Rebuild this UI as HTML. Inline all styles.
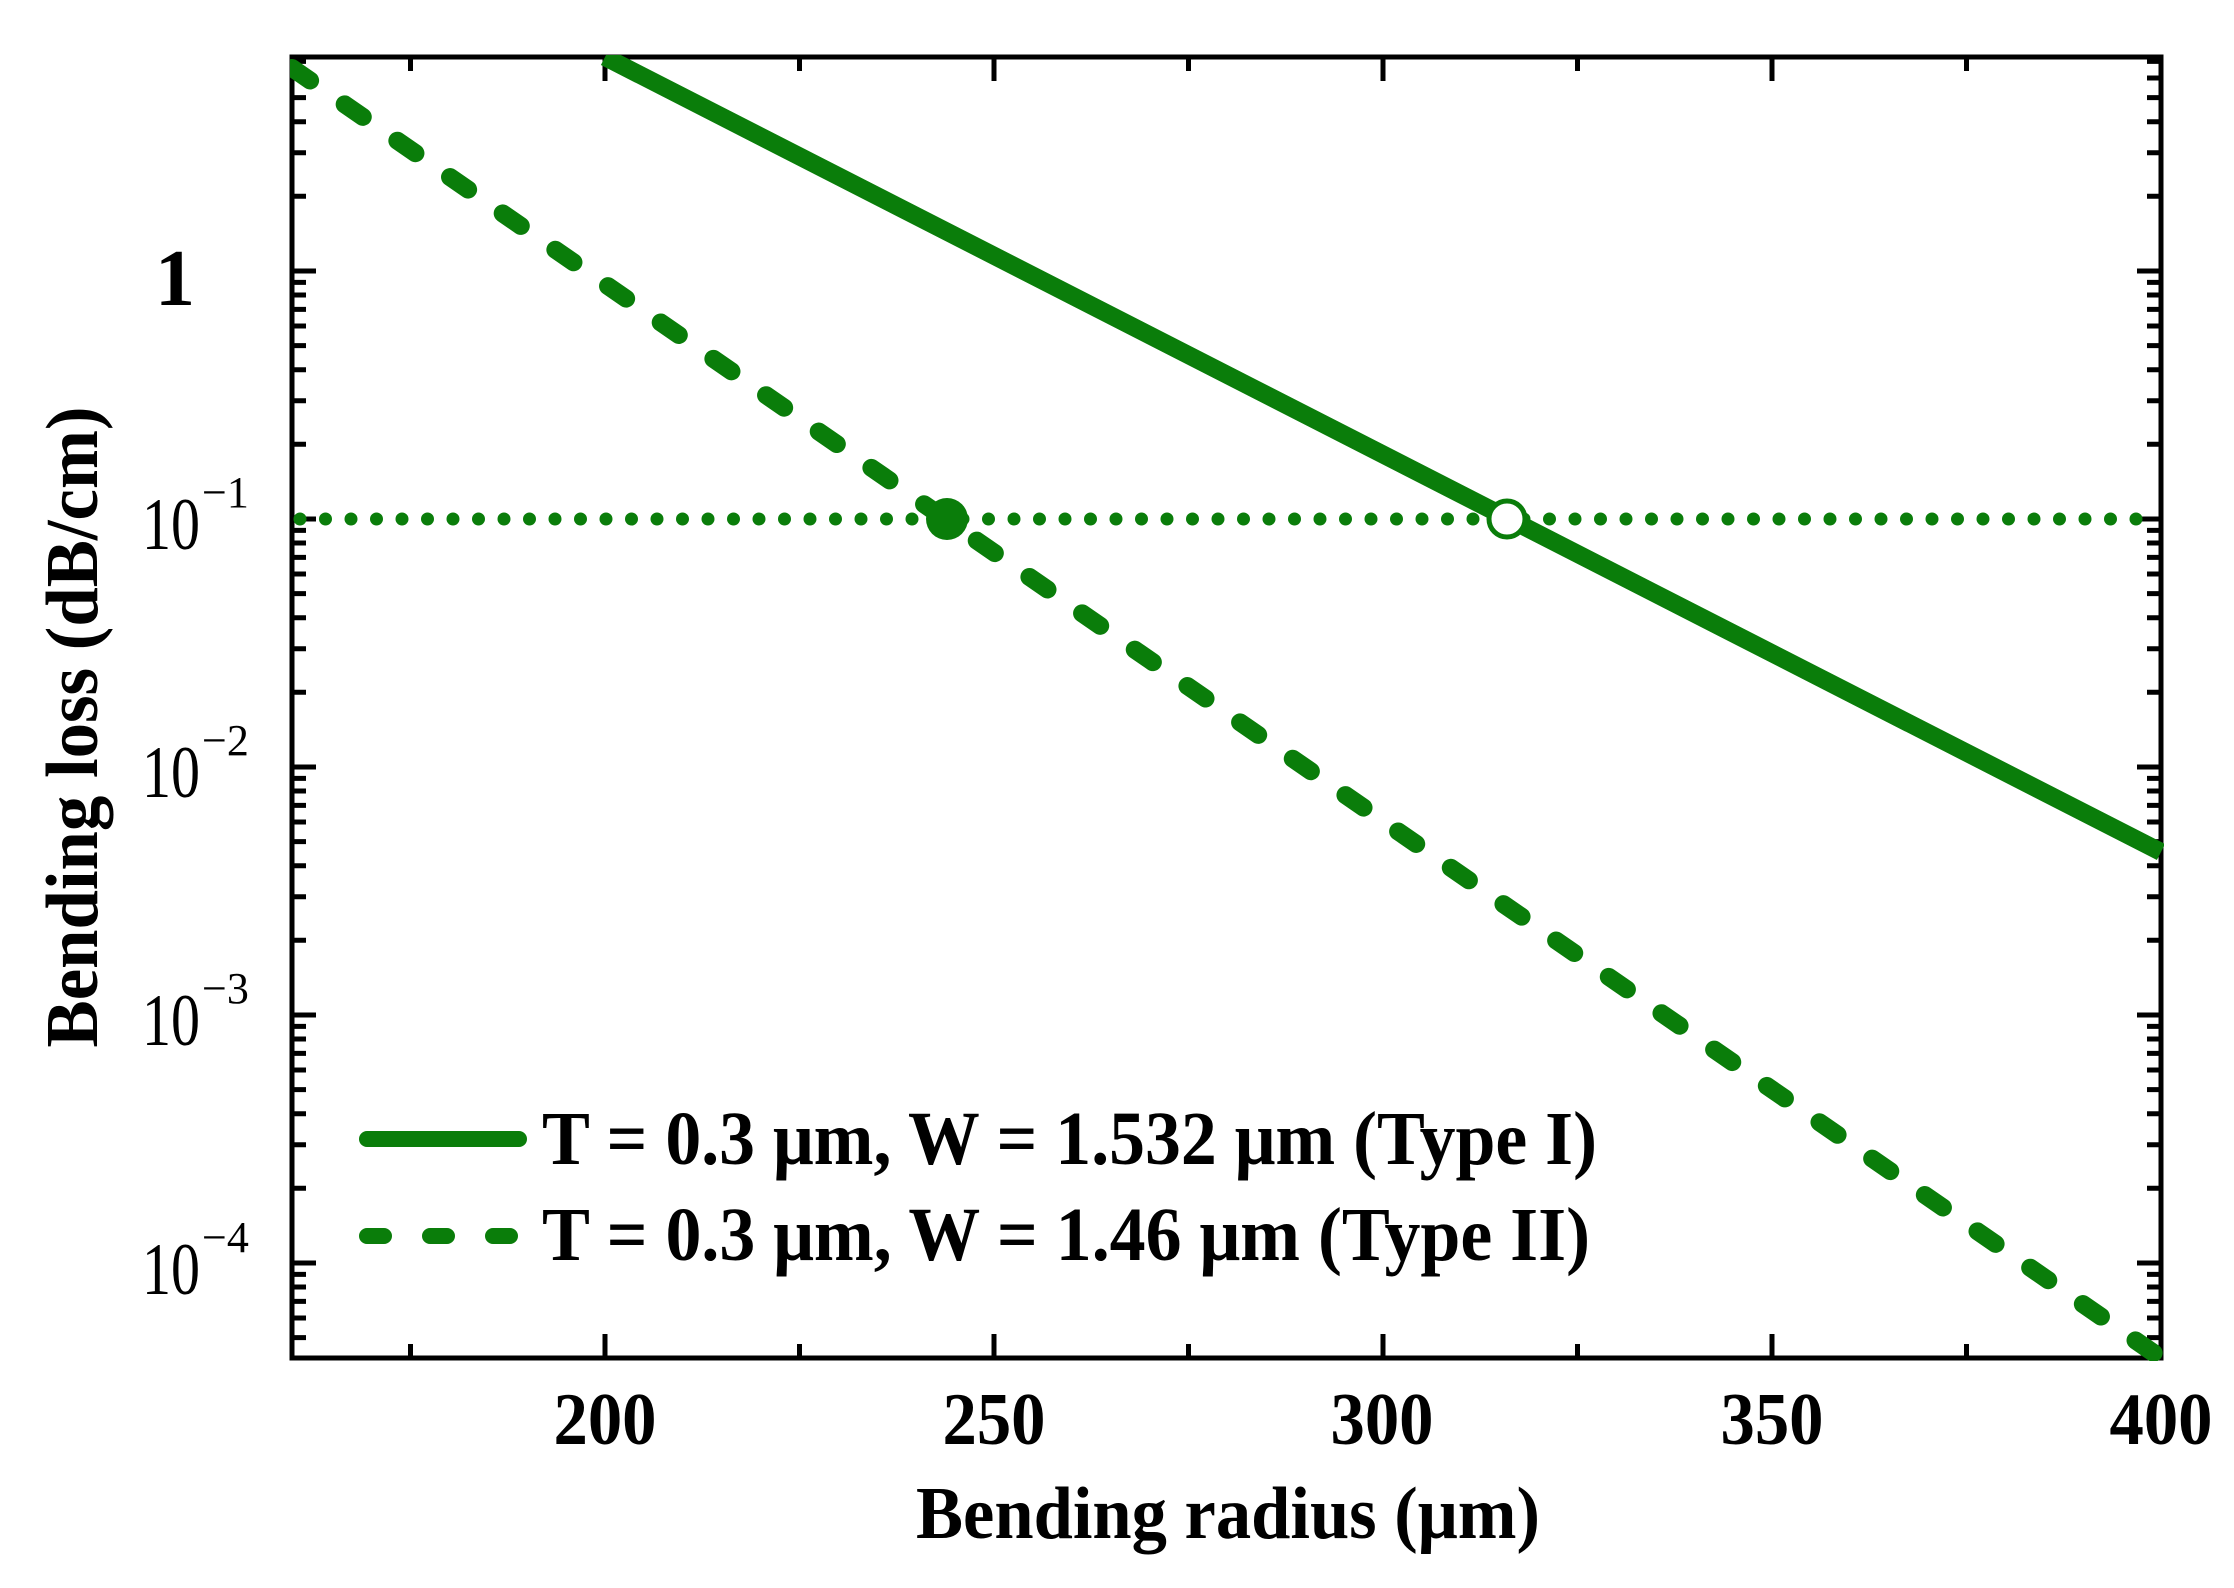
<!DOCTYPE html>
<html><head><meta charset="utf-8"><style>html,body{margin:0;padding:0;background:#fff}</style></head>
<body>
<svg width="2234" height="1583" viewBox="0 0 2234 1583" xmlns="http://www.w3.org/2000/svg" font-family="'Liberation Serif', serif">
<rect width="2234" height="1583" fill="#fff"/>
<defs>
<g id="yt" stroke="#000" stroke-width="5">
<path d="M292 271h24M292 519h24M292 767h24M292 1015h24M292 1263h24"/>
<path d="M292 196.3h14M292 152.7h14M292 121.7h14M292 97.6h14M292 78h14M292 61.4h14
M292 444.3h14M292 400.7h14M292 369.7h14M292 345.6h14M292 326h14M292 309.4h14M292 295h14M292 282.4h14
M292 692.3h14M292 648.7h14M292 617.7h14M292 593.6h14M292 574h14M292 557.4h14M292 543h14M292 530.4h14
M292 940.3h14M292 896.7h14M292 865.7h14M292 841.6h14M292 822h14M292 805.4h14M292 791h14M292 778.4h14
M292 1188.3h14M292 1144.7h14M292 1113.7h14M292 1089.6h14M292 1070h14M292 1053.4h14M292 1039h14M292 1026.4h14
M292 1274.4h14M292 1287h14M292 1301.4h14M292 1318h14M292 1337.6h14"/>
</g>
<g id="xt" stroke="#000" stroke-width="5">
<path d="M605 1358v-24M994 1358v-24M1383 1358v-24M1772 1358v-24"/>
<path d="M410.5 1358v-14M799.5 1358v-14M1188.5 1358v-14M1577.5 1358v-14M1966.5 1358v-14"/>
</g>
</defs>
<use href="#yt"/>
<use href="#yt" transform="translate(2453,0) scale(-1,1)"/>
<use href="#xt"/>
<use href="#xt" transform="translate(0,1415) scale(1,-1)"/>
<rect x="292" y="57" width="1869" height="1301" fill="none" stroke="#000" stroke-width="5"/>
<clipPath id="c"><rect x="290" y="55" width="1874" height="1306"/></clipPath>
<g clip-path="url(#c)" stroke="#0a7d0a" fill="none" stroke-linecap="round">
<line x1="300" y1="519" x2="2161" y2="519" stroke-width="13" stroke-dasharray="0 25.5"/>
<line x1="605" y1="57" x2="2161" y2="852" stroke-width="18" stroke-linecap="butt"/>
<line x1="292" y1="68" x2="2161" y2="1358" stroke-width="18" stroke-dasharray="22 42"/>
<circle cx="947" cy="519" r="21" fill="#0a7d0a" stroke="none"/>
<circle cx="1507" cy="519" r="18" fill="#fff" stroke-width="5"/>
</g>
<g font-weight="bold" font-size="74" text-anchor="middle">
<text x="605" y="1444" textLength="103" lengthAdjust="spacingAndGlyphs">200</text>
<text x="994" y="1444" textLength="103" lengthAdjust="spacingAndGlyphs">250</text>
<text x="1382" y="1444" textLength="103" lengthAdjust="spacingAndGlyphs">300</text>
<text x="1772" y="1444" textLength="103" lengthAdjust="spacingAndGlyphs">350</text>
<text x="2161" y="1444" textLength="103" lengthAdjust="spacingAndGlyphs">400</text>
</g>
<text x="175" y="305" font-weight="bold" font-size="80" text-anchor="middle">1</text>
<g font-size="74">
<text x="142" y="549" textLength="58" lengthAdjust="spacingAndGlyphs">10</text><text x="202" y="507" font-size="44">−1</text>
<text x="142" y="797" textLength="58" lengthAdjust="spacingAndGlyphs">10</text><text x="202" y="755" font-size="44">−2</text>
<text x="142" y="1045" textLength="58" lengthAdjust="spacingAndGlyphs">10</text><text x="202" y="1003" font-size="44">−3</text>
<text x="142" y="1294" textLength="58" lengthAdjust="spacingAndGlyphs">10</text><text x="202" y="1252" font-size="44">−4</text>
</g>
<text x="1228" y="1538" font-weight="bold" font-size="74" text-anchor="middle" textLength="624" lengthAdjust="spacingAndGlyphs">Bending radius (μm)</text>
<text transform="translate(97,727) rotate(-90)" font-weight="bold" font-size="74" text-anchor="middle" textLength="641" lengthAdjust="spacingAndGlyphs">Bending loss (dB/cm)</text>
<line x1="367" y1="1139" x2="519" y2="1139" stroke="#0a7d0a" stroke-width="16" stroke-linecap="round"/>
<line x1="367" y1="1236" x2="519" y2="1236" stroke="#0a7d0a" stroke-width="16" stroke-linecap="round" stroke-dasharray="17 46"/>
<g font-weight="bold" font-size="76">
<text x="542" y="1164" textLength="1055" lengthAdjust="spacingAndGlyphs">T = 0.3 μm, W = 1.532 μm (Type I)</text>
<text x="542" y="1260" textLength="1048" lengthAdjust="spacingAndGlyphs">T = 0.3 μm, W = 1.46 μm (Type II)</text>
</g>
</svg>
</body></html>
